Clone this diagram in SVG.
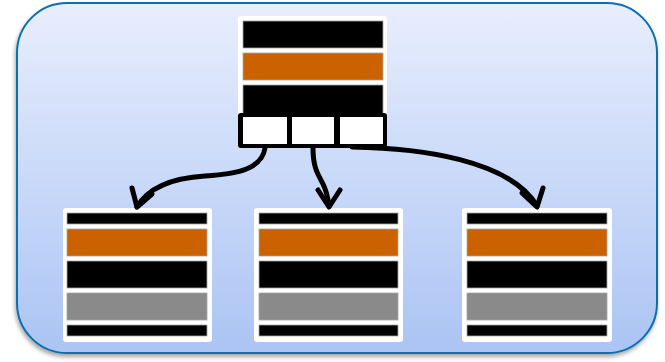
<svg xmlns="http://www.w3.org/2000/svg" width="665" height="362" viewBox="0 0 665 362">
  <defs>
    <linearGradient id="panelFill" x1="0" y1="0" x2="0" y2="1">
      <stop offset="0" stop-color="#e8eefd"/>
      <stop offset="1" stop-color="#abc4f4"/>
    </linearGradient>
    <filter id="panelShadow" x="-5%" y="-5%" width="110%" height="115%">
      <feGaussianBlur in="SourceAlpha" stdDeviation="2"/>
      <feOffset dx="-1" dy="3" result="b"/>
      <feComponentTransfer><feFuncA type="linear" slope="0.35"/></feComponentTransfer>
      <feMerge><feMergeNode/><feMergeNode in="SourceGraphic"/></feMerge>
    </filter>
    <style>
      .card { fill: #ffffff; }
      .bar { stroke: #a6a6a6; stroke-width: 0.8; }
      .blk { fill: #000000; }
      .org { fill: #cc6100; }
      .gry { fill: #8a8a8a; }
      .cell { fill: #ffffff; }
      .edge { fill: none; stroke: #000000; stroke-width: 5; stroke-linecap: round; stroke-linejoin: round; }
    </style>
  </defs>

  <!-- background panel -->
  <rect x="17" y="3" width="640" height="350" rx="50" ry="50" fill="url(#panelFill)" stroke="#0a6eb0" stroke-width="2" filter="url(#panelShadow)"/>

  <!-- parent node with three pointer slots -->
  <g id="parent">
    <rect class="card" x="238" y="16" width="149" height="100" rx="3"/>
    <rect class="bar blk" x="243" y="21" width="140" height="27"/>
    <rect class="bar org" x="243" y="53" width="140" height="27"/>
    <rect class="bar blk" x="243" y="85" width="140" height="30"/>
    <rect x="238" y="113" width="149" height="35" rx="3" fill="#000000"/>
    <rect class="cell" x="243" y="117" width="44" height="27"/>
    <rect class="cell" x="292" y="117" width="42" height="27"/>
    <rect class="cell" x="340" y="117" width="43" height="27"/>
  </g>

  <!-- child nodes -->
  <g id="child-left">
    <rect class="card" x="63" y="208" width="149" height="134" rx="3"/>
    <rect class="bar blk" x="67" y="213" width="140" height="11"/>
    <rect class="bar org" x="67" y="229" width="140" height="27"/>
    <rect class="bar blk" x="67" y="261" width="140" height="27"/>
    <rect class="bar gry" x="67" y="293" width="140" height="27"/>
    <rect class="bar blk" x="67" y="325" width="140" height="11"/>
  </g>

  <g id="child-middle">
    <rect class="card" x="254" y="208" width="149" height="134" rx="3"/>
    <rect class="bar blk" x="259" y="213" width="139" height="11"/>
    <rect class="bar org" x="259" y="229" width="139" height="27"/>
    <rect class="bar blk" x="259" y="261" width="139" height="27"/>
    <rect class="bar gry" x="259" y="293" width="139" height="27"/>
    <rect class="bar blk" x="259" y="325" width="139" height="11"/>
  </g>

  <g id="child-right">
    <rect class="card" x="462" y="208" width="150" height="134" rx="3"/>
    <rect class="bar blk" x="467" y="213" width="140" height="11"/>
    <rect class="bar org" x="467" y="229" width="140" height="27"/>
    <rect class="bar blk" x="467" y="261" width="140" height="27"/>
    <rect class="bar gry" x="467" y="293" width="140" height="27"/>
    <rect class="bar blk" x="467" y="325" width="140" height="11"/>
  </g>

  <!-- pointers from slots to children -->
  <g id="connectors">
    <path class="edge" d="M265,148 C262,168 240,174 205,176 C172,178 148,188 137,207"/>
    <path class="edge" d="M132,188 L137,207 L152,194"/>
    <path class="edge" d="M313,148 C313,168 318,174 323,184 C327,192 328,198 329,206"/>
    <path class="edge" d="M318,190 L329,207 L340,190"/>
    <path class="edge" d="M352,147 C420,148 510,160 537,206"/>
    <path class="edge" d="M522,193 L537,207 L543,188"/>
  </g>
</svg>
